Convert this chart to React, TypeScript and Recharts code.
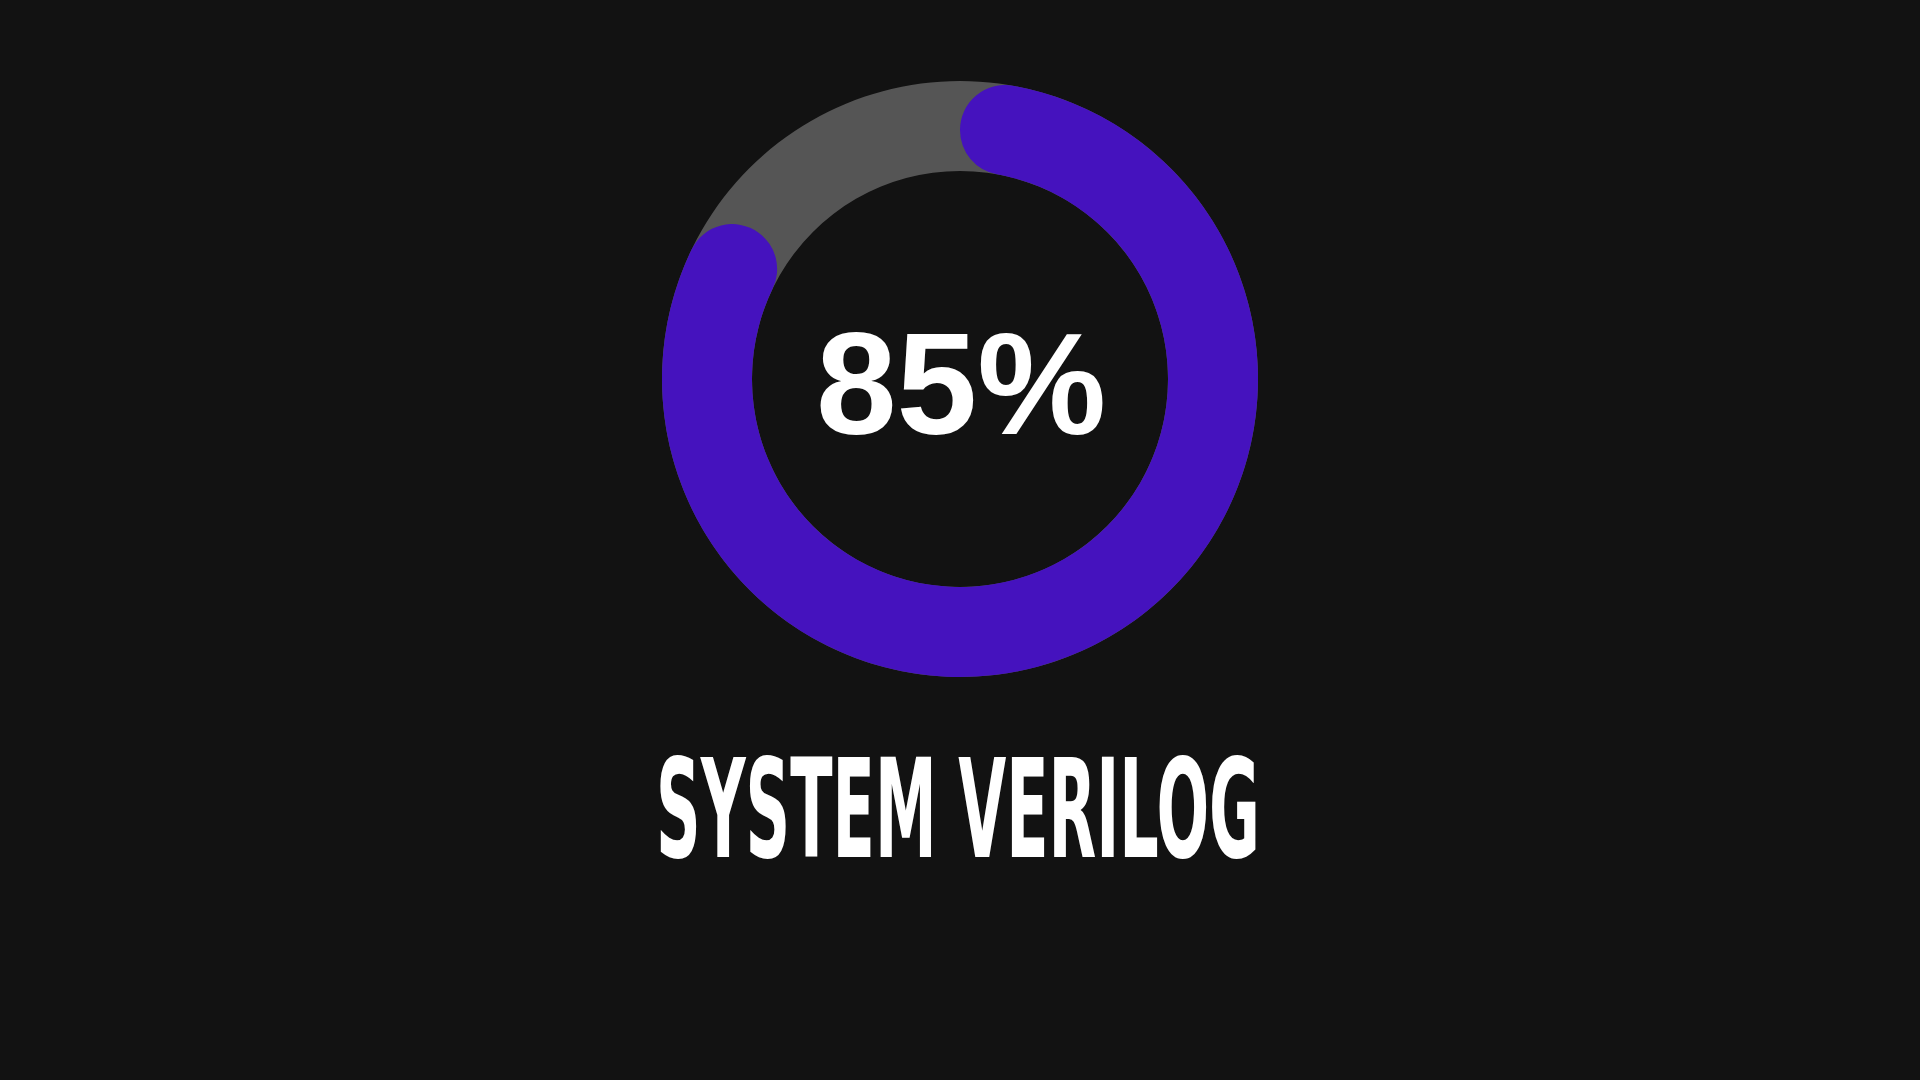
import { PieChart, Pie, Cell } from "recharts";

const CATEGORIES = ["Done", "Remaining"];
const VALUES = [85, 15];
const TRACK = [100];
const SKILL = "SYSTEM VERILOG";

const BG = "#121212";
const COLORS = ["#4512be", "transparent"];

const progressData = CATEGORIES.map((name, i) => ({ name, value: VALUES[i] }));
const trackData = TRACK.map((value) => ({ name: "track", value }));

export default function App() {
  const percent = `${VALUES[0]}%`;

  return (
    <div
      style={{
        position: "fixed",
        left: 0,
        top: 0,
        width: 1920,
        height: 1080,
        background: BG,
      }}
    >
      <PieChart
        width={1920}
        height={1080}
        margin={{ top: 0, right: 0, bottom: 0, left: 0 }}
      >
        <Pie
          data={trackData}
          dataKey="value"
          cx={960}
          cy={379}
          innerRadius={208}
          outerRadius={298}
          startAngle={90}
          endAngle={-270}
          stroke="none"
          fill="#555555"
          isAnimationActive={false}
        />
        <Pie
          data={progressData}
          dataKey="value"
          cx={960}
          cy={379}
          innerRadius={208}
          outerRadius={298}
          startAngle={90}
          endAngle={-270}
          cornerRadius={45}
          stroke="none"
          isAnimationActive={false}
        >
          {progressData.map((entry, index) => (
            <Cell key={`cell-${index}`} fill={COLORS[index % COLORS.length]} />
          ))}
        </Pie>
        <text
          x={961}
          y={434}
          textAnchor="middle"
          fill="#ffffff"
          fontFamily="'Liberation Sans', Arial, sans-serif"
          fontWeight="bold"
          fontSize={145}
        >
          {percent}
        </text>
        <text
          x={656}
          y={857}
          fill="#ffffff"
          fontFamily="'DejaVu Sans Condensed', 'DejaVu Sans', sans-serif"
          fontWeight="bold"
          fontSize={137}
          textLength={604}
          lengthAdjust="spacingAndGlyphs"
        >
          {SKILL}
        </text>
      </PieChart>
    </div>
  );
}
